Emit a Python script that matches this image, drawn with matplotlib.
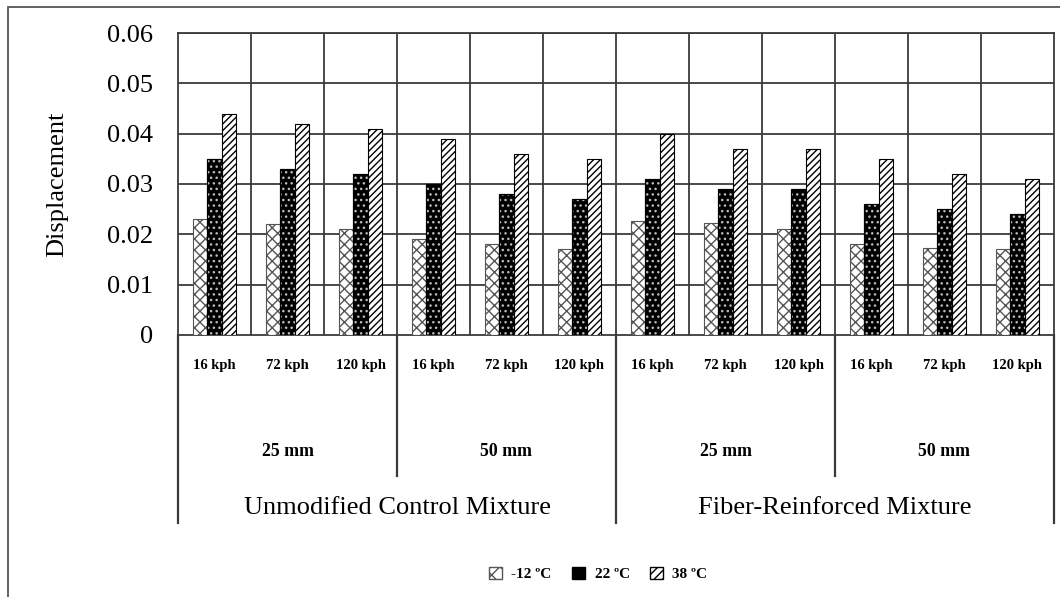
import numpy as np
import matplotlib
matplotlib.use('Agg')
import matplotlib.pyplot as plt
from matplotlib.patches import Patch, Rectangle
from matplotlib.transforms import blended_transform_factory

# data
speeds = ['16 kph', '72 kph', '120 kph'] * 4
sizes = ['25 mm', '50 mm', '25 mm', '50 mm']
mixtures = ['Unmodified Control Mixture', 'Fiber-Reinforced Mixture']
temps = ['-12 \u00baC', '22 \u00baC', '38 \u00baC']

t_minus12 = [0.023, 0.022, 0.021, 0.019, 0.018, 0.017,
             0.0227, 0.0223, 0.021, 0.018, 0.0173, 0.017]
t_22 = [0.035, 0.033, 0.032, 0.030, 0.028, 0.027,
        0.031, 0.029, 0.029, 0.026, 0.025, 0.024]
t_38 = [0.044, 0.042, 0.041, 0.039, 0.036, 0.035,
        0.040, 0.037, 0.037, 0.035, 0.032, 0.031]

plt.rcParams['font.family'] = 'Liberation Serif'
plt.rcParams['hatch.linewidth'] = 1.0

W, H = 1060, 597
fig = plt.figure(figsize=(W / 100, H / 100), dpi=100)
ax = fig.add_axes([178 / W, 1 - 335 / H, (1054 - 178) / W, (335 - 33) / H])

x = np.arange(len(speeds))
bw = 0.2
gray = '#3a3a3a'

# -12 C : white with crosshatch
ax.bar(x - bw, t_minus12, bw, facecolor='white', edgecolor='#555555',
       hatch='xxx', linewidth=0.8, zorder=3)
# 22 C : black with white dots
ax.bar(x, t_22, bw, facecolor='black', edgecolor='black', linewidth=0.8, zorder=3)
ax.bar(x, t_22, bw, facecolor='none', edgecolor='#bbbbbb', hatch='...',
       linewidth=0, zorder=4)
ax.bar(x, t_22, bw, facecolor='none', edgecolor='black', linewidth=0.8, zorder=5)
# 38 C : diagonal hatch
ax.bar(x + bw, t_38, bw, facecolor='white', edgecolor='black', hatch='/////',
       linewidth=0.8, zorder=3)

ax.set_xlim(-0.5, len(speeds) - 0.5)
ax.set_ylim(0, 0.06)
ax.set_yticks(np.arange(0, 0.061, 0.01))
ax.set_yticklabels(['0', '0.01', '0.02', '0.03', '0.04', '0.05', '0.06'])
ax.set_xticks([])
for xv in np.arange(0.5, len(speeds) - 0.5, 1):
    ax.axvline(xv, color=gray, linewidth=1.3, zorder=1)
for yv in np.arange(0.01, 0.061, 0.01):
    ax.axhline(yv, color=gray, linewidth=1.3, zorder=1)
for s in ax.spines.values():
    s.set_color(gray)
    s.set_linewidth(1.3)
ax.tick_params(axis='y', length=0, pad=18, labelsize=19)
ax.set_ylabel('Displacement', fontsize=19)
ax.yaxis.set_label_coords(-110 / (1054 - 178), 0.5)

# multi-level category axis
tr = blended_transform_factory(ax.transData, fig.transFigure)


def fy(p):
    return 1 - p / H


for xi, lab in zip(x, speeds):
    ax.text(xi, fy(366), lab, transform=tr, ha='center', va='center',
            fontsize=10.5, fontweight='bold')
for i, lab in enumerate(sizes):
    ax.text(3 * i + 1, fy(452), lab, transform=tr, ha='center', va='center',
            fontsize=12.8, fontweight='bold')
for i, lab in enumerate(mixtures):
    ax.text(6 * i + 2.5, fy(508), lab, transform=tr, ha='center', va='center',
            fontsize=19)

for xv, bottom in [(-0.5, 523), (2.5, 476), (5.5, 523), (8.5, 476), (11.5, 523)]:
    ax.plot([xv, xv], [fy(335), fy(bottom)], transform=tr, color=gray,
            linewidth=1.6, clip_on=False)

# outer frame
fig.patches.append(Rectangle((8 / W, -0.1), 1.2, 1 - 7 / H + 0.1,
                             transform=fig.transFigure, fill=False,
                             edgecolor='#555555', linewidth=1.3))

handles = [
    Patch(facecolor='white', edgecolor='#555555', hatch='xx'),
    Patch(facecolor='black', edgecolor='black', hatch='..'),
    Patch(facecolor='white', edgecolor='black', hatch='////'),
]
fig.legend(handles, temps, loc='center', bbox_to_anchor=(598 / W, fy(574)),
           ncol=3, frameon=False, prop={'size': 11, 'weight': 'bold'},
           handlelength=0.9, handleheight=0.9, columnspacing=1.3,
           handletextpad=0.6)

fig.savefig('out.png', dpi=100, facecolor='white')
